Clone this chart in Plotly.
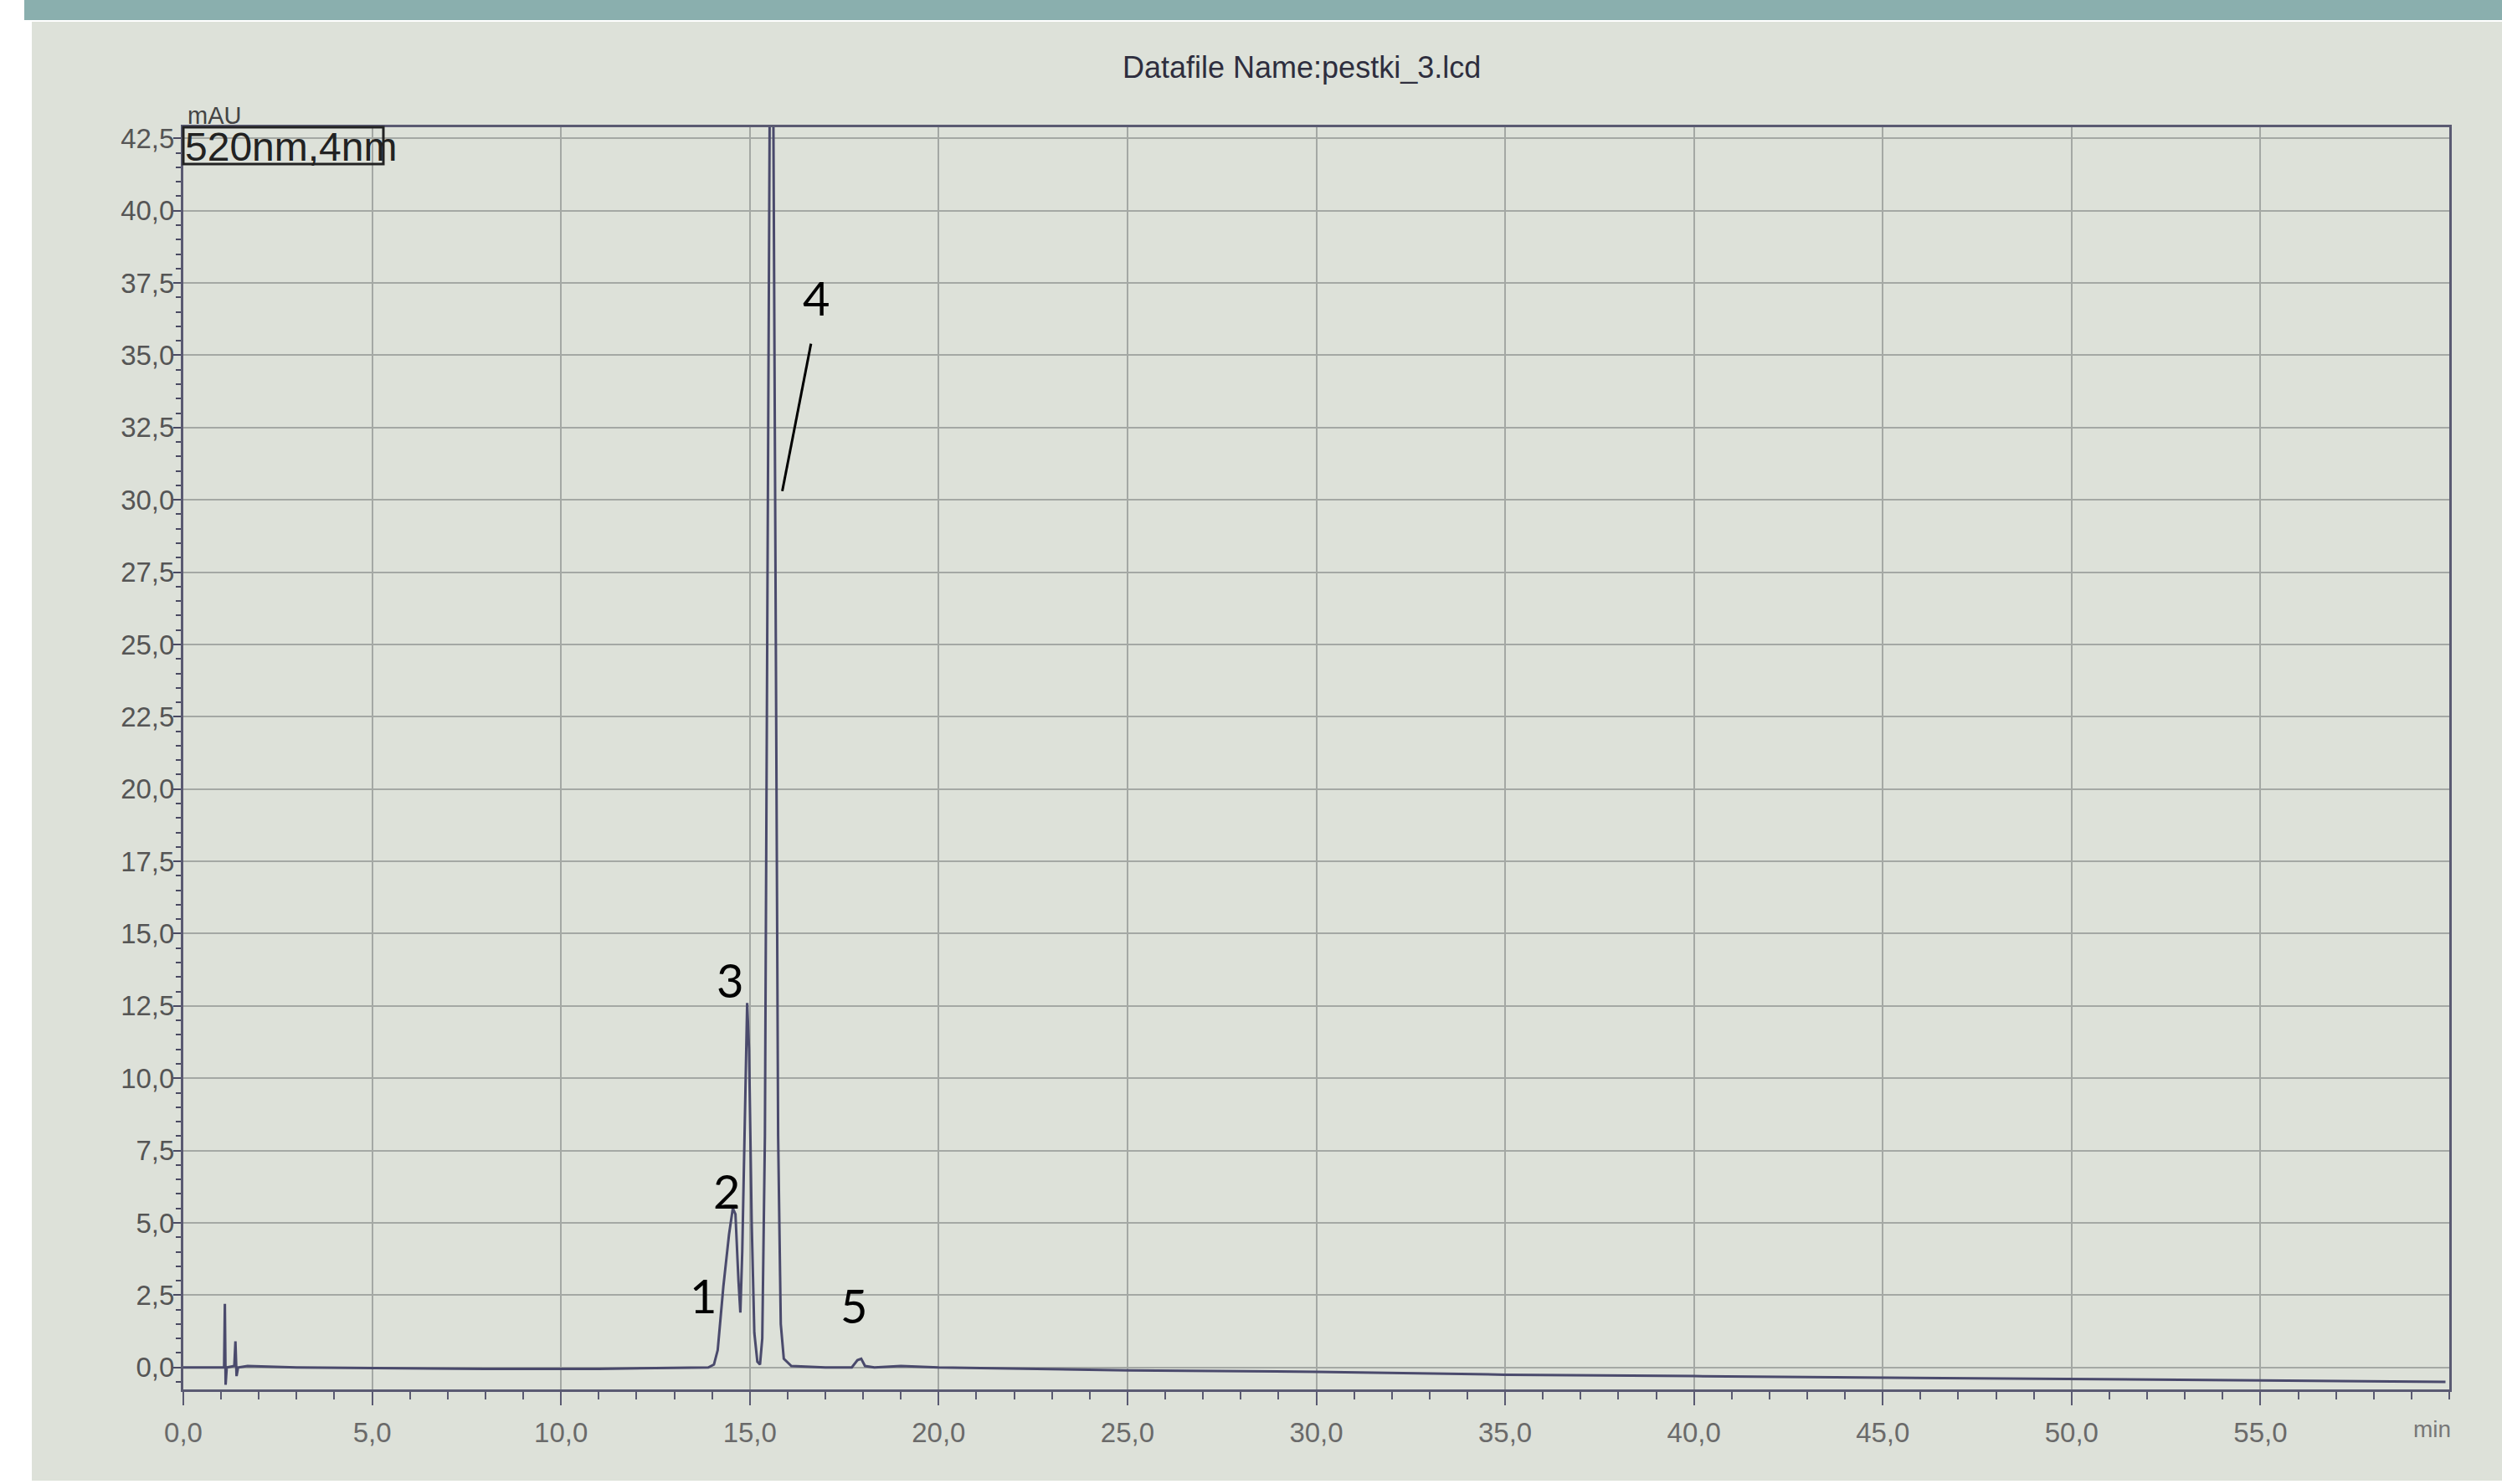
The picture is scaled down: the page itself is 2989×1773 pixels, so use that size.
import plotly.graph_objects as go

# ---- data (time in min, signal in mAU) ----
time_min = [0.0, 1.0, 1.08, 1.1, 1.12, 1.15, 1.35, 1.38, 1.41, 1.45, 1.7, 3.0, 5.0, 8.0,
            11.0, 13.0, 13.9, 14.05, 14.15, 14.3, 14.45, 14.55, 14.62, 14.7, 14.75, 14.8,
            14.88, 14.93, 14.98, 15.05, 15.12, 15.2, 15.27, 15.33, 15.4, 15.48, 15.55,
            15.6, 15.67, 15.75, 15.82, 15.9, 16.1, 17.0, 17.7, 17.85, 17.95, 18.05, 18.3,
            19.0, 20.0, 25.0, 30.0, 35.0, 40.0, 45.0, 50.0, 55.0, 59.9]
signal_mau = [0.0, 0.0, 0.0, 2.2, -0.6, 0.0, 0.05, 0.9, -0.3, 0.0, 0.05, 0.0, -0.02, -0.05,
              -0.05, -0.03, 0.0, 0.1, 0.6, 2.8, 4.6, 5.5, 5.3, 3.0, 1.9, 4.0,
              10.0, 12.6, 11.0, 5.0, 1.2, 0.2, 0.1, 1.0, 8.0, 30.0, 50.0,
              50.0, 30.0, 8.0, 1.5, 0.3, 0.05, 0.0, 0.0, 0.25, 0.3, 0.05, 0.0,
              0.05, 0.0, -0.1, -0.15, -0.25, -0.3, -0.35, -0.4, -0.45, -0.5]

peak_labels = ["1", "2", "3", "4", "5"]
peak_label_x = [13.76, 14.39, 14.47, 16.75, 17.76]
peak_label_y = [2.5, 6.1, 13.4, 37.0, 2.15]
pointer4_x = [16.62, 15.86]
pointer4_y = [35.4, 30.3]

x_range = [0, 60]
x_tick_values = [0, 5, 10, 15, 20, 25, 30, 35, 40, 45, 50, 55]
y_range = [-0.76, 42.885]
title_text = "Datafile Name:pestki_3.lcd"
channel_text = "520nm,4nm"

W, H = 2989, 1773
L, R, T, B = 219, 63, 152, 113
pw, ph = W - L - R, H - T - B


def px(xp):
    return (xp - L) / pw


def py(yp):
    return (H - B - yp) / ph


fig = go.Figure()
fig.add_trace(go.Scatter(x=time_min, y=signal_mau, mode="lines",
                         line=dict(color="#4a4a6c", width=3), hoverinfo="skip",
                         showlegend=False))

photo = "#dde1d9"
shapes = [
    dict(type="rect", xref="paper", yref="paper", x0=px(0), x1=px(38), y0=py(H), y1=py(0),
         fillcolor="white", line_width=0, layer="below"),
    dict(type="rect", xref="paper", yref="paper", x0=px(0), x1=px(W), y0=py(H), y1=py(1769),
         fillcolor="white", line_width=0, layer="below"),
    dict(type="rect", xref="paper", yref="paper", x0=px(0), x1=px(W), y0=py(26), y1=py(0),
         fillcolor="white", line_width=0, layer="below"),
    dict(type="rect", xref="paper", yref="paper", x0=px(29), x1=px(W), y0=py(24), y1=py(0),
         fillcolor="#8aafae", line_width=0, layer="below"),
    dict(type="rect", xref="paper", yref="paper", x0=px(219), x1=px(458), y0=py(196), y1=py(152),
         fillcolor="rgba(0,0,0,0)", line=dict(color="#222", width=3)),
    dict(type="line", xref="x", yref="y", x0=pointer4_x[0], y0=pointer4_y[0],
         x1=pointer4_x[1], y1=pointer4_y[1], line=dict(color="black", width=3)),
]

annotations = [
    dict(text=title_text, xref="paper", yref="paper", x=px(1555), y=py(80), showarrow=False,
         xanchor="center", yanchor="middle",
         font=dict(family="Liberation Sans", size=36, color="#2e2e3e")),
    dict(text=channel_text, xref="paper", yref="paper", x=px(219), y=py(176), xanchor="left",
         yanchor="middle", showarrow=False,
         font=dict(family="Liberation Sans", size=48, color="#222")),
    dict(text="mAU", xref="paper", yref="paper", x=px(256), y=py(138), showarrow=False,
         xanchor="center", yanchor="middle",
         font=dict(family="Liberation Sans", size=29, color="#444")),
    dict(text="min", xref="paper", yref="paper", x=px(2905), y=py(1708), showarrow=False,
         xanchor="center", yanchor="middle",
         font=dict(family="Liberation Sans", size=28, color="#777")),
]
for t, x, y in zip(peak_labels, peak_label_x, peak_label_y):
    annotations.append(dict(text=t, x=x, y=y, xref="x", yref="y", showarrow=False,
                            xanchor="center", yanchor="middle",
                            font=dict(family="Lato", size=56, color="black")))

fig.update_layout(
    width=W, height=H, margin=dict(l=L, r=R, t=T, b=B),
    paper_bgcolor=photo, plot_bgcolor="rgba(0,0,0,0)",
    separators=",.",
    shapes=shapes, annotations=annotations,
    xaxis=dict(range=x_range, tickmode="array", tickvals=x_tick_values, tickformat=".1f",
               showgrid=True, gridcolor="#a4a8a4", gridwidth=2, zeroline=False,
               showline=True, linecolor="#5a5a72", linewidth=3, mirror=True,
               ticks="outside", ticklen=16, tickwidth=2, tickcolor="#5a5a72",
               ticklabelstandoff=4,
               tickfont=dict(family="Liberation Sans", size=33, color="#6a6a6a"),
               minor=dict(dtick=1, tick0=0, ticks="outside", ticklen=9, tickwidth=2,
                          tickcolor="#5a5a72", showgrid=False),
               fixedrange=True),
    yaxis=dict(range=y_range, dtick=2.5, tick0=0, tickformat=".1f", showgrid=True,
               gridcolor="#a4a8a4", gridwidth=2, zeroline=False, showline=True,
               linecolor="#5a5a72", linewidth=3, mirror=True, ticks="outside",
               ticklen=9, tickwidth=2, tickcolor="#4a4a62", ticklabelstandoff=-8,
               tickfont=dict(family="Liberation Sans", size=33, color="#555"),
               minor=dict(dtick=0.5, ticks="outside", ticklen=6, tickwidth=2,
                          tickcolor="#4a4a62", showgrid=False),
               fixedrange=True),
)

fig.write_html("out.html", config={"displayModeBar": False},
               post_script="document.body.style.margin='0';")
